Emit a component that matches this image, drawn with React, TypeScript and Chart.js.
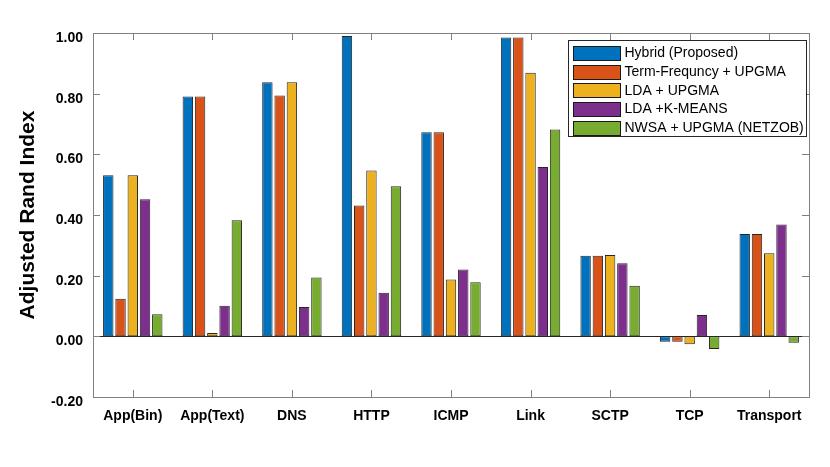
import { useEffect, useRef } from 'react';
import { Chart, registerables } from 'chart.js';
import type { ChartConfiguration, Plugin } from 'chart.js';

Chart.register(...registerables);

const categories = ['App(Bin)', 'App(Text)', 'DNS', 'HTTP', 'ICMP', 'Link', 'SCTP', 'TCP', 'Transport'];
const seriesNames = [
  'Hybrid (Proposed)',
  'Term-Frequncy + UPGMA',
  'LDA + UPGMA',
  'LDA +K-MEANS',
  'NWSA + UPGMA (NETZOB)',
];
const hybrid = [0.531, 0.791, 0.838, 0.99, 0.673, 0.985, 0.266, -0.018, 0.337];
const termFreq = [0.124, 0.791, 0.794, 0.431, 0.673, 0.985, 0.266, -0.018, 0.337];
const ldaUpgma = [0.531, 0.011, 0.838, 0.547, 0.187, 0.869, 0.268, -0.026, 0.274];
const ldaKmeans = [0.452, 0.101, 0.097, 0.144, 0.22, 0.558, 0.241, 0.07, 0.369];
const nwsa = [0.073, 0.383, 0.194, 0.495, 0.178, 0.682, 0.167, -0.042, -0.021];
const seriesColors = ['#0072BD', '#D95319', '#EDB120', '#7E2F8E', '#77AC30'];
const yTicks = [-0.2, 0, 0.2, 0.4, 0.6, 0.8, 1.0];

const FONT = "'Liberation Sans', Arial, Helvetica, sans-serif";

// MATLAB-style box, inward tick marks and zero baseline
const framePlugin: Plugin<'bar'> = {
  id: 'frame',
  afterDatasetsDraw(chart) {
    const { ctx, chartArea: a, scales } = chart;
    const x = scales.x;
    const y = scales.y;
    ctx.save();
    ctx.lineWidth = 1;
    ctx.strokeStyle = '#262626';
    const y0 = Math.round(y.getPixelForValue(0)) + 0.5;
    ctx.beginPath();
    ctx.moveTo(a.left, y0);
    ctx.lineTo(a.right, y0);
    ctx.stroke();

    ctx.strokeStyle = '#808080';
    ctx.strokeRect(Math.round(a.left) + 0.5, Math.round(a.top) + 0.5, Math.round(a.right - a.left), Math.round(a.bottom - a.top));
    const tl = 7;
    ctx.beginPath();
    categories.forEach((_, i) => {
      const px = Math.round(x.getPixelForValue(i)) + 0.5;
      ctx.moveTo(px, a.bottom);
      ctx.lineTo(px, a.bottom - tl);
      ctx.moveTo(px, a.top);
      ctx.lineTo(px, a.top + tl);
    });
    yTicks.forEach((v) => {
      const py = Math.round(y.getPixelForValue(v)) + 0.5;
      ctx.moveTo(a.left, py);
      ctx.lineTo(a.left + tl, py);
      ctx.moveTo(a.right, py);
      ctx.lineTo(a.right - tl, py);
    });
    ctx.stroke();
    ctx.restore();
  },
};

const legendPlugin: Plugin<'bar'> = {
  id: 'boxLegend',
  afterDraw(chart) {
    const { ctx, chartArea: a } = chart;
    const w = 238;
    const h = 96;
    const left = Math.round(a.right - 3.5 - w) + 0.5;
    const top = Math.round(a.top + 7) + 0.5;
    ctx.save();
    ctx.fillStyle = '#ffffff';
    ctx.fillRect(left, top, w, h);
    ctx.strokeStyle = '#262626';
    ctx.lineWidth = 1;
    ctx.strokeRect(left, top, w, h);
    ctx.font = `14px ${FONT}`;
    ctx.textBaseline = 'middle';
    ctx.textAlign = 'left';
    chart.data.datasets.forEach((ds, i) => {
      const cy = top + 12.5 + i * 18.7;
      ctx.fillStyle = ds.backgroundColor as string;
      ctx.fillRect(left + 5, Math.round(cy - 7) + 0.5, 47, 14);
      ctx.strokeStyle = '#1a1a1a';
      ctx.strokeRect(left + 5, Math.round(cy - 7) + 0.5, 47, 14);
      ctx.fillStyle = '#000000';
      ctx.fillText(ds.label ?? '', left + 56, cy + 0.5);
    });
    ctx.restore();
  },
};

export default function App() {
  const canvasRef = useRef<HTMLCanvasElement>(null);
  const chartRef = useRef<Chart<'bar'> | null>(null);

  useEffect(() => {
    document.body.style.margin = '0';
    if (!canvasRef.current) return;
    const values = [hybrid, termFreq, ldaUpgma, ldaKmeans, nwsa];

    const config: ChartConfiguration<'bar'> = {
      type: 'bar',
      data: {
        labels: categories,
        datasets: values.map((data, i) => ({
          label: seriesNames[i],
          data,
          backgroundColor: seriesColors[i],
          borderColor: '#262626',
          borderWidth: 1,
          borderSkipped: false,
          categoryPercentage: 0.77,
          barPercentage: 0.85,
        })),
      },
      options: {
        responsive: false,
        animation: false,
        layout: { padding: { top: 33, right: 21, left: 16, bottom: 0 } },
        plugins: { legend: { display: false }, tooltip: { enabled: false } },
        scales: {
          x: {
            grid: { display: false, drawTicks: false },
            border: { display: false },
            ticks: { font: { family: FONT, size: 14, weight: 'bold' }, color: '#000000', padding: 11, maxRotation: 0 },
            afterFit: (s) => { s.height = 70; },
          },
          y: {
            min: -0.2,
            max: 1.0,
            grid: { display: false, drawTicks: false },
            border: { display: false },
            afterBuildTicks: (s) => { s.ticks = yTicks.map((v) => ({ value: v })); },
            ticks: {
              font: { family: FONT, size: 14, weight: 'bold' },
              color: '#000000',
              padding: 10,
              labelOffset: 5,
              callback: (v) => Number(v).toFixed(2),
            },
            title: {
              display: true,
              text: 'Adjusted Rand Index',
              font: { family: FONT, size: 21, weight: 'bold' },
              color: '#000000',
              padding: { top: 0, bottom: 4 },
            },
            afterFit: (s) => { s.width = 77; },
          },
        },
      },
      plugins: [framePlugin, legendPlugin],
    };

    chartRef.current = new Chart(canvasRef.current, config);
    return () => { chartRef.current?.destroy(); chartRef.current = null; };
  }, []);

  return (
    <div style={{ width: 830, height: 467, background: '#ffffff' }}>
      <canvas ref={canvasRef} width={830} height={467} />
    </div>
  );
}
